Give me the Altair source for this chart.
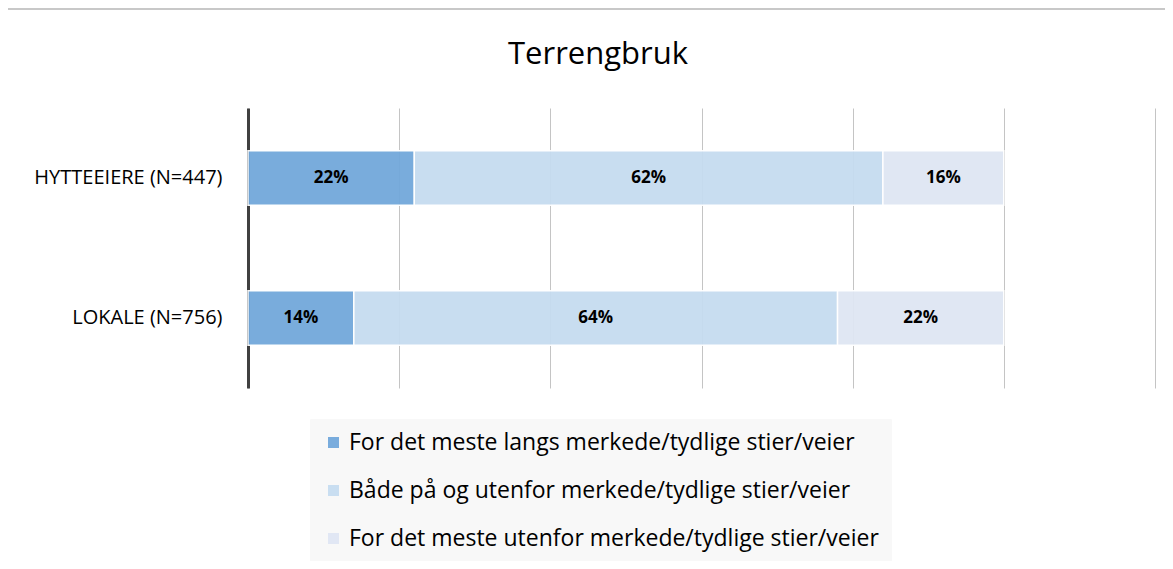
import altair as alt
import pandas as pd

title_text = "Terrengbruk"
groups = ["HYTTEEIERE (N=447)", "LOKALE (N=756)"]
categories = [
    "For det meste langs merkede/tydlige stier/veier",
    "Både på og utenfor merkede/tydlige stier/veier",
    "For det meste utenfor merkede/tydlige stier/veier",
]
values_hytte = [22, 62, 16]
values_lokale = [14, 64, 22]
colors = ["#72a8db", "#c6dcf0", "#dfe6f3"]

rows = []
for g, vals in zip(groups, [values_hytte, values_lokale]):
    for i, (c, v) in enumerate(zip(categories, vals)):
        rows.append({"group": g, "category": c, "order": i, "value": v, "label": f"{v}%"})
df = pd.DataFrame(rows)

FONT = "Open Sans"

y_enc = alt.Y(
    "group:N",
    sort=groups,
    title=None,
    scale=alt.Scale(paddingInner=0.61, paddingOuter=0.305),
    axis=alt.Axis(
        domain=True, domainColor="#404040", domainWidth=3, ticks=False,
        labelFontSize=20, labelFont=FONT, labelColor="#000000",
        labelPadding=26, labelFontWeight="normal", labelLimit=0,
    ),
)

x_enc = alt.X(
    "sum(value):Q",
    stack="zero",
    title=None,
    scale=alt.Scale(domain=[0, 120], nice=False),
    axis=alt.Axis(
        values=[0, 20, 40, 60, 80, 100, 120], labels=False, ticks=False, domain=False,
        grid=True, gridColor="#c4c4c4", gridWidth=1,
    ),
)

bars = alt.Chart(df).mark_bar(stroke="white", strokeWidth=1.5, opacity=0.95).encode(
    y=y_enc,
    x=x_enc,
    color=alt.Color(
        "category:N",
        sort=categories,
        scale=alt.Scale(domain=categories, range=colors),
        legend=alt.Legend(
            title=None, orient="none", legendX=62, legendY=311, direction="vertical",
            symbolType="square", symbolSize=121, symbolStrokeWidth=0,
            labelFontSize=23, labelFont=FONT, labelColor="#000000", labelLimit=0,
            rowPadding=24, padding=12, fillColor="#f8f8f8", strokeColor="#f8f8f8",
            symbolOffset=0, labelOffset=4,
        ),
    ),
    order=alt.Order("order:Q"),
)

text = alt.Chart(df).mark_text(
    fontSize=17, fontWeight="bold", font=FONT, color="#000000"
).transform_stack(
    stack="value", groupby=["group"], as_=["x0", "x1"], sort=[alt.SortField("order")]
).transform_calculate(
    xm="(datum.x0 + datum.x1) / 2"
).encode(
    y=alt.Y("group:N", sort=groups),
    x=alt.X("xm:Q"),
    text="label:N",
)

border = alt.Chart(pd.DataFrame({"k": [0]})).mark_rule(
    color="#c8c8c8", strokeWidth=2
).encode(x=alt.value(-240), x2=alt.value(1015), y=alt.value(-99))

title = alt.Chart(pd.DataFrame({"t": [title_text]})).mark_text(
    fontSize=31, font=FONT, color="#000000", align="center", baseline="middle"
).encode(x=alt.value(350), y=alt.value(-53), text="t:N")

chart = alt.layer(bars, text, border, title).properties(
    width=907,
    height=280,
    autosize=alt.AutoSizeParams(type="none"),
    padding={"left": 240, "top": 100, "right": 10, "bottom": 173},
).configure_view(stroke=None)

chart.save("out.html", embed_options={"renderer": "svg", "actions": False})
